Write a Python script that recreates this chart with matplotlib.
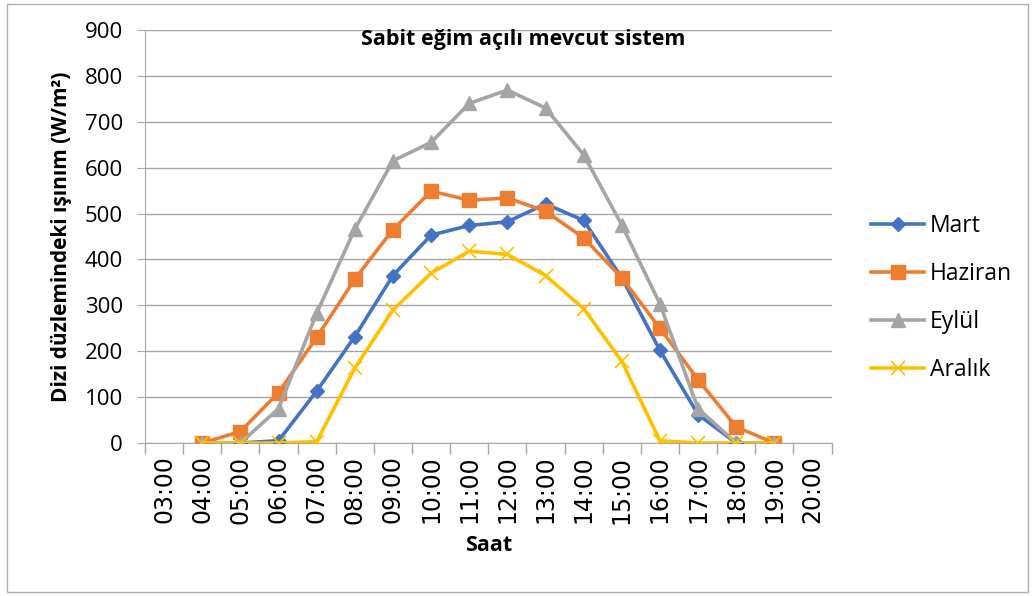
import matplotlib.pyplot as plt
from matplotlib.patches import Rectangle
import numpy as np

# Data
hours = ["03:00", "04:00", "05:00", "06:00", "07:00", "08:00", "09:00", "10:00", "11:00",
         "12:00", "13:00", "14:00", "15:00", "16:00", "17:00", "18:00", "19:00", "20:00"]
data_hours = hours[1:17]  # series span 04:00 - 19:00

mart = [0, 0, 5, 113, 232, 365, 453, 474, 482, 521, 485, 360, 202, 62, 0, 0]
haziran = [0, 25, 110, 230, 357, 465, 549, 529, 534, 505, 447, 360, 250, 138, 35, 0]
eylul = [0, 0, 75, 283, 466, 615, 655, 740, 769, 730, 628, 475, 303, 75, 0, 0]
aralik = [0, 0, 0, 3, 163, 290, 370, 418, 411, 365, 293, 178, 5, 0, 0, 0]

plt.rcParams['font.family'] = ['Open Sans', 'DejaVu Sans']

fig = plt.figure(figsize=(10.33, 5.96), dpi=100)
ax = fig.add_axes([0.1404, 0.2567, 0.6646, 0.693])

xpos = [hours.index(h) for h in data_hours]

ax.plot(xpos, mart, color='#4472C4', lw=2.6, marker='D', ms=7.5, label='Mart', zorder=3)
ax.plot(xpos, haziran, color='#ED7D31', lw=2.6, marker='s', ms=10, label='Haziran', zorder=3)
ax.plot(xpos, eylul, color='#A5A5A5', lw=2.6, marker='^', ms=10, label='Eylül', zorder=3)
ax.plot(xpos, aralik, color='#FFC000', lw=2.6, marker='x', ms=10, mew=1.2, label='Aralık', zorder=3)

ax.set_xlim(-0.5, len(hours) - 0.5)
ax.set_ylim(0, 900)
ax.set_yticks(range(0, 901, 100))
ax.set_xticks(range(len(hours)))
ax.set_xticklabels(hours, rotation=90, family='DejaVu Sans')
ax.set_xticks(np.arange(-0.5, len(hours), 1), minor=True)
ax.tick_params(axis='x', which='major', length=0, labelsize=17, pad=9)
ax.tick_params(axis='x', which='minor', length=8, color='#a6a6a6', width=1)
ax.tick_params(axis='y', length=6, color='#a6a6a6', labelsize=16, pad=10)

ax.grid(axis='y', color='#a6a6a6', lw=1)
ax.set_axisbelow(True)
for s in ['top', 'right']:
    ax.spines[s].set_visible(False)
for s in ['left', 'bottom']:
    ax.spines[s].set_color('#a6a6a6')

ax.set_ylabel('Dizi düzlemindeki ışınım (W/m²)', fontsize=15, fontweight='bold', labelpad=9)
ax.set_xlabel('Saat', fontsize=15.5, fontweight='bold', labelpad=8)
fig.text(0.506, 0.933, 'Sabit eğim açılı mevcut sistem', ha='center', va='center',
         fontsize=15.5, fontweight='bold')

ax.legend(loc='center left', bbox_to_anchor=(1.028, 0.351), frameon=False, fontsize=16.5,
          handlelength=2.3, labelspacing=1.06, handletextpad=0.25)

fig.patches.append(Rectangle((0.007, 0.007), 0.988, 0.986, transform=fig.transFigure,
                             fill=False, edgecolor='#b0b0b0', lw=1))

fig.savefig('out.png', dpi=100)
